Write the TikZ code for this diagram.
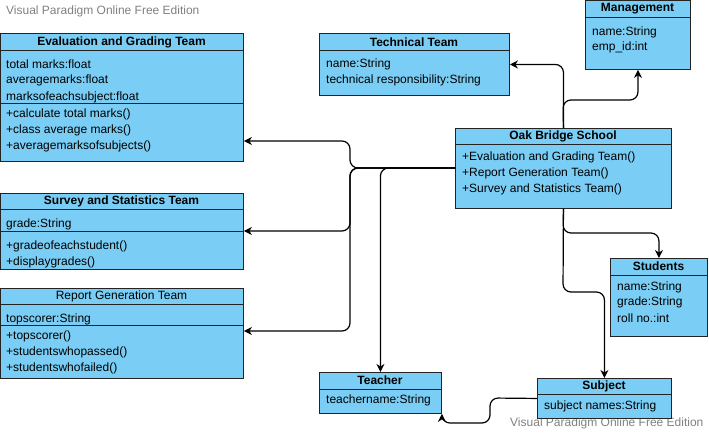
\documentclass[tikz,border=0pt]{standalone}
\usepackage{fontspec}
\setmainfont{Liberation Sans}
\usetikzlibrary{arrows.meta,calc}
\definecolor{boxfill}{RGB}{122,206,245}
\definecolor{boxline}{RGB}{35,35,35}
\definecolor{wm}{RGB}{128,128,128}
\tikzset{
  cls/.style={draw=boxline,fill=boxfill,line width=0.9pt,anchor=north west,inner sep=0pt},
  hdr/.style={font=\fontsize{12}{14}\selectfont\bfseries,inner sep=0pt,anchor=center},
  txt/.style={font=\fontsize{12}{14}\selectfont,inner sep=0pt,anchor=west},
  sep/.style={draw=boxline,line width=0.9pt},
  conn/.style={draw=black,line width=1.2pt,rounded corners=8pt},
  arr/.style={conn,-{Stealth[length=8pt,width=8pt,inset=2.5pt]}},
  wmark/.style={font=\fontsize{12}{14}\selectfont,text=wm,inner sep=0pt,anchor=west}
}
\begin{document}
\begin{tikzpicture}[x=1pt,y=-1pt]
\useasboundingbox (0,0) rectangle (709,433);
\node[wmark] (wm1) at (6,11) {Visual Paradigm Online Free Edition};
\node[wmark] (wm2) at (510,423) {Visual Paradigm Online Free Edition};

% Evaluation and Grading Team
\node[cls,minimum width=243pt,minimum height=128pt] (eval) at (0,33) {};
\draw[sep] (0,50) -- (243,50);
\draw[sep] (0,103) -- (243,103);
\node[hdr] (evalh) at (121.5,42) {Evaluation and Grading Team};
\node[txt] (evala1) at (6,64) {total marks:float};
\node[txt] (evala2) at (6,80) {averagemarks:float};
\node[txt] (evala3) at (6,97) {marksofeachsubject:float};
\node[txt] (evalm1) at (6,114) {+calculate total marks()};
\node[txt] (evalm2) at (6,130) {+class average marks()};
\node[txt] (evalm3) at (6,146) {+averagemarksofsubjects()};

% Technical Team
\node[cls,minimum width=190pt,minimum height=62pt] (tech) at (319,33) {};
\draw[sep] (319,50) -- (509,50);
\node[hdr] (techh) at (414,42) {Technical Team};
\node[txt] (techa1) at (326,64) {name:String};
\node[txt] (techa2) at (326,80) {technical responsibility:String};

% Management
\node[cls,minimum width=105pt,minimum height=69pt] (mgmt) at (585,0) {};
\draw[sep] (585,17) -- (690,17);
\node[hdr] (mgmth) at (637.5,9) {Management};
\node[txt] (mgmta1) at (592,32) {name:String};
\node[txt] (mgmta2) at (592,47) {emp\_id:int};

% Oak Bridge School
\node[cls,minimum width=216pt,minimum height=80pt] (oak) at (455,128) {};
\draw[sep] (455,144) -- (671,144);
\node[hdr] (oakh) at (563,136) {Oak Bridge School};
\node[txt] (oakm1) at (462,157) {+Evaluation and Grading Team()};
\node[txt] (oakm2) at (462,173) {+Report Generation Team()};
\node[txt] (oakm3) at (462,189) {+Survey and Statistics Team()};

% Survey and Statistics Team
\node[cls,minimum width=243pt,minimum height=76pt] (surv) at (0,193) {};
\draw[sep] (0,209) -- (243,209);
\draw[sep] (0,231) -- (243,231);
\node[hdr] (survh) at (121.5,201) {Survey and Statistics Team};
\node[txt] (surva1) at (6,224) {grade:String};
\node[txt] (survm1) at (6,246) {+gradeofeachstudent()};
\node[txt] (survm2) at (6,262) {+displaygrades()};

% Report Generation Team
\node[cls,minimum width=243pt,minimum height=90pt] (rep) at (0,288) {};
\draw[sep] (0,304) -- (243,304);
\draw[sep] (0,325) -- (243,325);
\node[txt,anchor=center] (reph) at (121.5,296) {Report Generation Team};
\node[txt] (repa1) at (6,319) {topscorer:String};
\node[txt] (repm1) at (6,336) {+topscorer()};
\node[txt] (repm2) at (6,352) {+studentswhopassed()};
\node[txt] (repm3) at (6,368) {+studentswhofailed()};

% Students
\node[cls,minimum width=97pt,minimum height=78pt] (stud) at (610,258) {};
\draw[sep] (610,275) -- (707,275);
\node[hdr] (studh) at (658.5,266) {Students};
\node[txt] (studa1) at (617,287) {name:String};
\node[txt] (studa2) at (617,302) {grade:String};
\node[txt] (studa3) at (617,318) {roll no.:int};

% Teacher
\node[cls,minimum width=122pt,minimum height=41pt] (teach) at (319,372) {};
\draw[sep] (319,389) -- (441,389);
\node[hdr] (teachh) at (380,380) {Teacher};
\node[txt] (teacha1) at (326,400) {teachername:String};

% Subject
\node[cls,minimum width=134pt,minimum height=40pt] (subj) at (537,378) {};
\draw[sep] (537,394) -- (671,394);
\node[hdr] (subjh) at (604,386) {Subject};
\node[txt] (subja1) at (544,406) {subject names:String};

% connectors
\draw[arr] (oak.north) -- (oak.north |- tech.east) -- (tech.east);
\draw[arr] (oak.north) -- (563,100) -- (mgmt.south |- 0,100) -- (mgmt.south);
\draw[arr] (oak.west |- 0,168) -- (350,168) -- (350,141) -- (eval.east |- 0,141);
\draw[arr] (oak.west |- 0,168) -- (350,168) -- (350,231) -- (surv.east |- 0,231);
\draw[arr] (oak.west |- 0,168) -- (350,168) -- (350,331) -- (rep.east |- 0,331);
\draw[arr] (oak.west |- 0,168) -- (teach.north |- 0,168) -- (teach.north);
\draw[arr] (oak.south) -- (563,233) -- (stud.north |- 0,233) -- (stud.north);
\draw[arr] (oak.south) -- (563,292) -- (subj.north |- 0,292) -- (subj.north);
\draw[arr] (subj.west) -- (490,398) -- (490,423) -- (teach.south east |- 0,423) -- (teach.south east);
\end{tikzpicture}
\end{document}
